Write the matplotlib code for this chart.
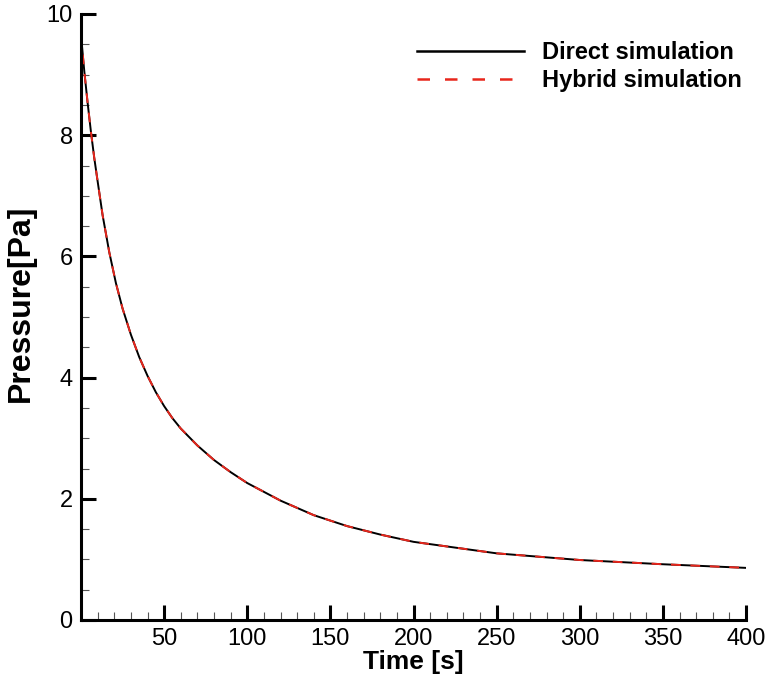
import matplotlib
matplotlib.use("Agg")
import matplotlib.pyplot as plt
from matplotlib.ticker import MultipleLocator
from matplotlib.lines import Line2D

# Data
time_s = [0, 2, 4, 6, 8, 10, 13, 17, 21, 25, 30, 35, 40, 45, 50, 55, 60, 70, 80, 90,
          100, 120, 140, 160, 180, 200, 250, 300, 350, 400]
pressure_direct = [9.65, 9.05, 8.53, 8.05, 7.62, 7.24, 6.68, 6.07, 5.56, 5.14, 4.71,
                   4.34, 4.03, 3.76, 3.53, 3.33, 3.16, 2.88, 2.64, 2.44, 2.26, 1.97,
                   1.73, 1.55, 1.41, 1.29, 1.10, 0.99, 0.92, 0.86]
pressure_hybrid = list(pressure_direct)

x_ticks = [50, 100, 150, 200, 250, 300, 350, 400]
y_ticks = [0, 2, 4, 6, 8, 10]
labels = ["Direct simulation", "Hybrid simulation"]

plt.rcParams['font.family'] = ['Liberation Sans', 'DejaVu Sans']

fig = plt.figure(figsize=(7.66, 6.77), dpi=100)
ax = fig.add_axes([81/766, 57/677, (746-81)/766, (620-14)/677])

RED = '#e8261c'
ax.plot(time_s, pressure_direct, color='black', lw=1.4)
ax.plot(time_s, pressure_hybrid, color=RED, lw=1.4, dashes=(5, 5))

ax.set_xlim(0, 400)
ax.set_ylim(0, 10)
ax.set_xticks(x_ticks)
ax.set_yticks(y_ticks)
ax.xaxis.set_minor_locator(MultipleLocator(10))
ax.yaxis.set_minor_locator(MultipleLocator(0.5))

for s in ['top', 'right']:
    ax.spines[s].set_visible(False)
for s in ['left', 'bottom']:
    ax.spines[s].set_linewidth(2.2)

ax.tick_params(which='major', direction='in', length=10.5, width=2.2, labelsize=17, pad=6)
ax.tick_params(which='minor', direction='in', length=5.5, width=0.8, color='#555555')

ax.set_xlabel('Time [s]', fontsize=19, fontweight='bold', labelpad=0)
ax.set_ylabel('Pressure[Pa]', fontsize=23, fontweight='bold')
ax.yaxis.set_label_coords(-0.068, 0.523)

handles = [Line2D([], [], color='black', lw=1.8),
           Line2D([], [], color=RED, lw=1.8, dashes=(5, 6))]
ax.legend(handles, labels, loc='upper right', bbox_to_anchor=(1.026, 0.99), frameon=False,
          prop={'weight': 'bold', 'size': 17}, handlelength=4.55,
          handletextpad=0.76, labelspacing=0.2)

fig.savefig('out.png', dpi=100)
